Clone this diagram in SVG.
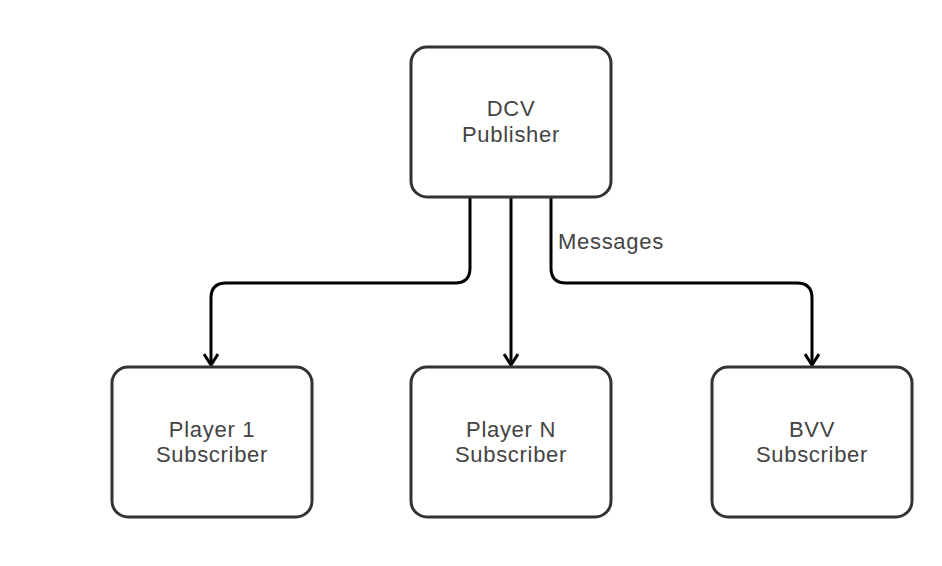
<svg xmlns="http://www.w3.org/2000/svg" width="942" height="566" viewBox="0 0 942 566">
<style>
.box{fill:#fff;stroke:#333;stroke-width:3}
.lbl{font-family:"Liberation Sans",Arial,sans-serif;font-size:22px;letter-spacing:0.7px;fill:#444;text-anchor:middle}
.edge{fill:none;stroke:#000;stroke-width:3}
</style>
<defs>
<marker id="arr" markerWidth="16" markerHeight="16" refX="13" refY="8" orient="auto" markerUnits="userSpaceOnUse" viewBox="0 0 16 16">
<path d="M2,1 L13,8 L2,15" fill="none" stroke="#000" stroke-width="3"/>
</marker>
</defs>
<rect width="942" height="566" fill="#fff"/>
<g id="connectors">
<path class="edge" d="M470,197 V268 Q470,283 455,283 H226 Q211,283 211,298 V365" marker-end="url(#arr)"/>
<path class="edge" d="M511,197 V365" marker-end="url(#arr)"/>
<path class="edge" d="M551,197 V268 Q551,283 566,283 H797 Q812,283 812,298 V365" marker-end="url(#arr)"/>
<text x="558" y="249" class="lbl" style="text-anchor:start">Messages</text>
</g>
<g id="publisher">
<rect class="box" x="411" y="47" width="200" height="150" rx="16"/>
<text class="lbl" x="511" y="116">DCV</text>
<text class="lbl" x="511" y="142">Publisher</text>
</g>
<g id="player1">
<rect class="box" x="112" y="367" width="200" height="150" rx="16"/>
<text class="lbl" x="212" y="437">Player 1</text>
<text class="lbl" x="212" y="462">Subscriber</text>
</g>
<g id="playerN">
<rect class="box" x="411" y="367" width="200" height="150" rx="16"/>
<text class="lbl" x="511" y="437">Player N</text>
<text class="lbl" x="511" y="462">Subscriber</text>
</g>
<g id="bvv">
<rect class="box" x="712" y="367" width="200" height="150" rx="16"/>
<text class="lbl" x="812" y="437">BVV</text>
<text class="lbl" x="812" y="462">Subscriber</text>
</g>
</svg>
